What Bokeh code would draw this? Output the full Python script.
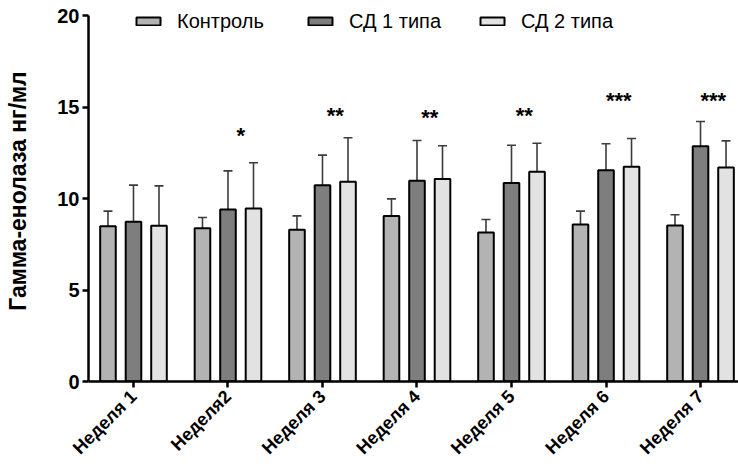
import numpy as np
from bokeh.plotting import figure
from bokeh.models import (Range1d, FixedTicker, Whisker, TeeHead, ColumnDataSource,
                          Legend, LegendItem)
from bokeh.core.properties import value
from bokeh.embed import file_html
from bokeh.resources import INLINE

# --- data -------------------------------------------------------------------
weeks = ["Неделя 1", "Неделя2", "Неделя 3", "Неделя 4", "Неделя 5", "Неделя 6", "Неделя 7"]
groups = ["Контроль", "СД 1 типа", "СД 2 типа"]

control_mean = [8.49, 8.38, 8.29, 9.05, 8.14, 8.58, 8.52]
control_sd = [0.82, 0.58, 0.76, 0.93, 0.71, 0.73, 0.59]

dm1_mean = [8.73, 9.40, 10.73, 10.97, 10.85, 11.55, 12.86]
dm1_sd = [2.00, 2.11, 1.64, 2.20, 2.06, 1.44, 1.35]

dm2_mean = [8.51, 9.45, 10.91, 11.06, 11.46, 11.73, 11.69]
dm2_sd = [2.18, 2.50, 2.41, 1.82, 1.56, 1.55, 1.46]

significance = ["", "*", "**", "**", "**", "***", "***"]
significance_level = [0.0, 13.6, 14.7, 14.6, 14.7, 15.5, 15.5]

y_ticks = [0, 5, 10, 15, 20]

# --- styling ------------------------------------------------------------------
FONT = "Liberation Sans"
fills = ["#b3b3b3", "#7e7e7e", "#e2e2e2"]
offsets = [-0.27, 0.0, 0.27]
bar_w = 0.165
err_color = "#3c3c3c"

# the value axis stops at 20; the frame runs a little higher so the legend fits inside
p = figure(width=738, height=468, output_backend="svg", toolbar_location=None,
           x_range=Range1d(-0.476, 6.402), y_range=Range1d(0, 20.82),
           min_border_left=88, min_border_right=0, min_border_top=0,
           min_border_bottom=87)
p.outline_line_color = None
p.xgrid.visible = False
p.ygrid.visible = False
p.background_fill_color = "white"

idx = np.arange(len(weeks))
series = [(control_mean, control_sd), (dm1_mean, dm1_sd), (dm2_mean, dm2_sd)]

renderers = []
for (mean, sd), fill, off in zip(series, fills, offsets):
    mean = np.array(mean)
    sd = np.array(sd)
    src = ColumnDataSource(dict(x=idx + off, top=mean, upper=mean + sd))
    r = p.vbar(x="x", top="top", width=bar_w, bottom=0, source=src,
               fill_color=fill, line_color="black", line_width=2)
    renderers.append(r)
    w = Whisker(base="x", upper="upper", lower="top", source=src,
                line_color=err_color, line_width=1.6,
                upper_head=TeeHead(size=9, line_color=err_color, line_width=1.6),
                lower_head=None)
    p.add_layout(w)

# significance marks between the two diabetes bars
star_src = ColumnDataSource(dict(x=idx + 0.135, y=significance_level, t=significance))
p.text(x="x", y="y", text="t", source=star_src, text_font=value(FONT),
       text_font_style="bold", text_font_size="22px", text_align="center",
       text_baseline="alphabetic", y_offset=3, text_color="black")

# axes
for ax in (p.xaxis[0], p.yaxis[0]):
    ax.axis_line_width = 2.5
    ax.axis_line_color = "black"
    ax.major_tick_line_width = 2.5
    ax.major_tick_line_color = "black"
    ax.major_tick_in = 0
    ax.major_tick_out = 6
    ax.minor_tick_line_color = None
    ax.major_label_text_font = FONT
    ax.major_label_text_font_style = "bold"
    ax.major_label_text_color = "black"

p.yaxis.bounds = (0, 20)
p.yaxis.ticker = FixedTicker(ticks=y_ticks)
p.yaxis.major_label_text_font_size = "20px"
p.yaxis.major_label_standoff = 3
p.yaxis.axis_label = "Гамма-енолаза нг/мл"
p.yaxis.axis_label_text_font = FONT
p.yaxis.axis_label_text_font_style = "bold"
p.yaxis.axis_label_text_font_size = "23px"
p.yaxis.axis_label_text_color = "black"
p.yaxis.axis_label_standoff = 23

p.xaxis.ticker = FixedTicker(ticks=list(range(len(weeks))))
p.xaxis.major_label_overrides = {i: w for i, w in enumerate(weeks)}
p.xaxis.major_label_orientation = np.pi / 4
p.xaxis.major_label_text_font_size = "18px"
p.xaxis.major_label_standoff = 6

# legend: one entry per group, laid out across the top
legend_x = [45, 217, 389]
for r, name, lx in zip(renderers, groups, legend_x):
    lg = Legend(items=[LegendItem(label=name, renderers=[r])], location=(lx, 348),
                orientation="horizontal", glyph_width=30, glyph_height=10,
                label_standoff=14, padding=0, margin=0, spacing=0,
                label_text_font=FONT, label_text_font_size="20px",
                label_text_color="black", border_line_color=None,
                background_fill_alpha=0, label_height=24)
    p.add_layout(lg)

open("out.html", "w").write(file_html(p, INLINE))
